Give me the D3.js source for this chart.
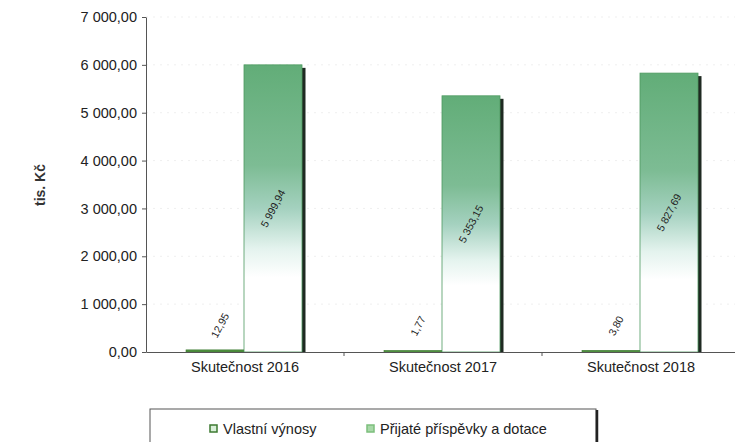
<!DOCTYPE html>
<html><head><meta charset="utf-8">
<script src="https://cdn.jsdelivr.net/npm/d3@7"></script>
<style>body{margin:0;background:#fff}svg{display:block}text{font-family:"Liberation Sans",Arial,sans-serif}</style>
</head><body><svg id="c" width="735" height="442"></svg>
<script>
const categories = ["Skutečnost 2016","Skutečnost 2017","Skutečnost 2018"];
const seriesNames = ["Vlastní výnosy","Přijaté příspěvky a dotace"];
const vlastniVynosy = [12.95, 1.77, 3.80];
const prijatePrispevky = [5999.94, 5353.15, 5827.69];
const yTicks = [0,1000,2000,3000,4000,5000,6000,7000];
const labelsA = ["12,95","1,77","3,80"];
const labelsB = ["5 999,94","5 353,15","5 827,69"];

const svg = d3.select("#c");
const x0 = 146, y0 = 352, yTop = 17, xEnd = 740;
const x = d3.scaleBand().domain(categories).range([x0, xEnd]);
const y = d3.scaleLinear().domain([0,7000]).range([y0, yTop]);
const fmt = v => d3.format(",.2f")(v).replace(/,/g," ").replace(".",",");

const defs = svg.append("defs");
const g = defs.append("linearGradient").attr("id","gB").attr("x1",0).attr("y1",0).attr("x2",0).attr("y2",1);
g.append("stop").attr("offset","0%").attr("stop-color","#62ad78");
g.append("stop").attr("offset","35%").attr("stop-color","#7dbc94");
g.append("stop").attr("offset","50%").attr("stop-color","#a4d1bf");
g.append("stop").attr("offset","64%").attr("stop-color","#e4f3ee");
g.append("stop").attr("offset","74%").attr("stop-color","#ffffff");
g.append("stop").attr("offset","100%").attr("stop-color","#ffffff");

// faint gridlines
svg.append("g").selectAll("line").data(yTicks.filter(d=>d>0)).join("line")
  .attr("x1",x0).attr("x2",xEnd).attr("y1",d=>y(d)).attr("y2",d=>y(d))
  .attr("stroke","#efefef").attr("stroke-dasharray","2,5");

// y axis
const ya = svg.append("g").attr("transform",`translate(${x0},0)`)
  .call(d3.axisLeft(y).tickValues(yTicks).tickFormat(fmt).tickSize(4).tickSizeOuter(0));
ya.select(".domain").attr("stroke","#555");
ya.selectAll(".tick line").attr("stroke","#555");
ya.selectAll(".tick text").attr("font-size",14.5).attr("fill","#222").attr("x",-9);

// bars
const bw = 58;
const grp = svg.append("g");
categories.forEach((c,i)=>{
  const cx = x(c) + x.bandwidth()/2;
  grp.append("rect").attr("x",cx-bw-1).attr("width",bw).attr("y",y(vlastniVynosy[i])-1.5)
    .attr("height",Math.max(2,y0-y(vlastniVynosy[i])+1.5)).attr("fill","#4f8f3f").attr("stroke","#3c7a30").attr("stroke-width",0.6);
  grp.append("rect").attr("x",cx+bw-1).attr("width",3.5).attr("y",y(prijatePrispevky[i])+3)
    .attr("height",y0-y(prijatePrispevky[i])-3).attr("fill","#1f2a22");
  grp.append("rect").attr("x",cx-1).attr("width",bw).attr("y",y(prijatePrispevky[i]))
    .attr("height",y0-y(prijatePrispevky[i])).attr("fill","url(#gB)").attr("stroke","#4e9a60").attr("stroke-width",0.8);
  grp.append("text").attr("transform",`translate(${cx-bw/2+4},${y(vlastniVynosy[i])-26}) rotate(-62)`)
    .attr("text-anchor","middle").attr("dy","0.35em").attr("font-size",10.5).attr("fill","#222").text(labelsA[i]);
  grp.append("text").attr("transform",`translate(${cx+bw/2-1},${(y(prijatePrispevky[i])+y0)/2}) rotate(-62)`)
    .attr("text-anchor","middle").attr("dy","0.35em").attr("font-size",10.5).attr("fill","#222").text(labelsB[i]);
});

// x axis
const xa = svg.append("g").attr("transform",`translate(0,${y0})`)
  .call(d3.axisBottom(x).tickSize(0));
xa.select(".domain").attr("stroke","#555");
xa.selectAll(".tick text").attr("font-size",14.5).attr("fill","#222").attr("dy","1.2em");
svg.append("g").selectAll("line").data(categories.slice(1)).join("line")
  .attr("x1",d=>x(d)).attr("x2",d=>x(d)).attr("y1",y0).attr("y2",y0+4).attr("stroke","#555");

// y title
svg.append("text").attr("transform","translate(45,185) rotate(-90)").attr("text-anchor","middle")
  .attr("font-size",14).attr("font-weight","bold").attr("fill","#333").text("tis. Kč");

// legend
const lg = svg.append("g");
lg.append("rect").attr("x",150).attr("y",409).attr("width",446).attr("height",40).attr("fill","#fff").attr("stroke","#555");
lg.append("line").attr("x1",597).attr("x2",597).attr("y1",410).attr("y2",442).attr("stroke","#222").attr("stroke-width",2.5);
const legX = [210, 367];
seriesNames.forEach((n,i)=>{
  lg.append("rect").attr("x",legX[i]).attr("y",425).attr("width",7).attr("height",7)
    .attr("fill",i===0?"#d9efd9":"#a8d8a8").attr("stroke",i===0?"#3c7a30":"#7cbf7c").attr("stroke-width",1.5);
  lg.append("text").attr("x",legX[i]+13).attr("y",429).attr("dy","0.35em").attr("font-size",14.5).attr("fill","#222").text(n);
});
</script></body></html>
